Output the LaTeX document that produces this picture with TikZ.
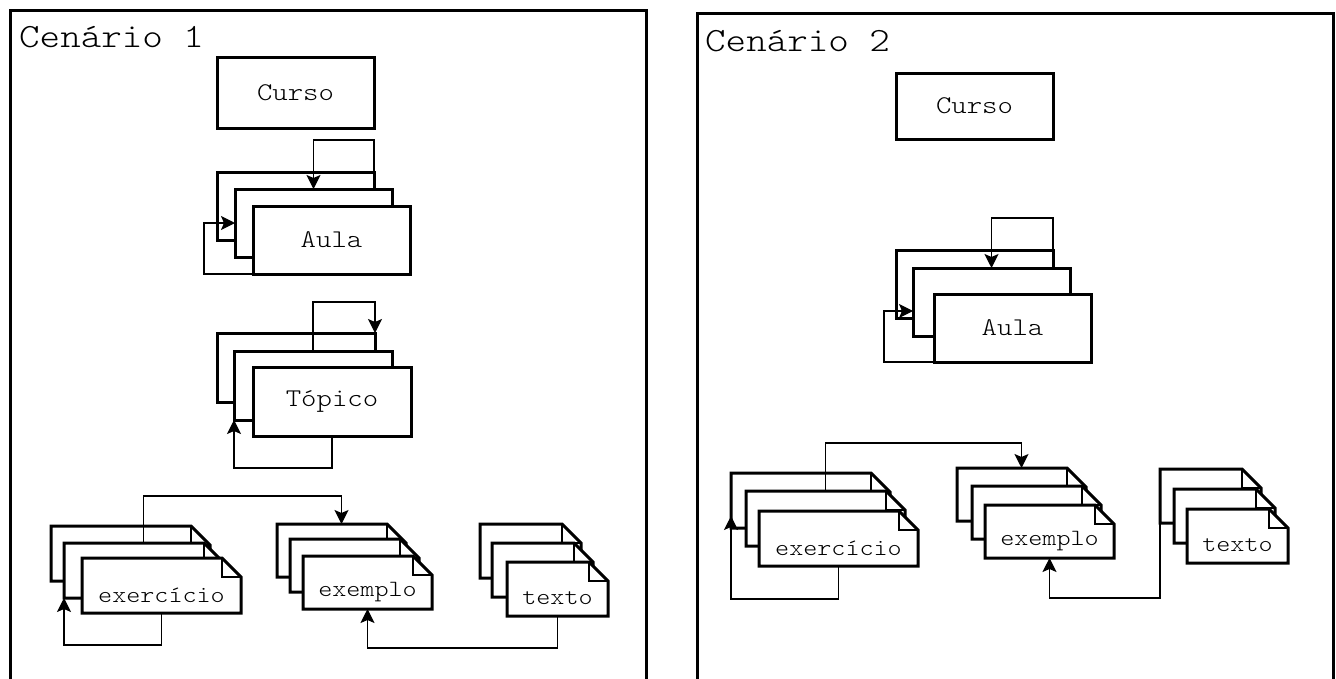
\documentclass[tikz,border=0pt]{standalone}
\usepackage{fontspec}
\usetikzlibrary{arrows.meta}
\newfontfamily\monofam[FakeStretch=1.15]{Latin Modern Mono Light}
\newcommand\fTitle{\monofam\fontsize{34}{40}\selectfont}
\newcommand\fBox{\monofam\fontsize{25.5}{30}\selectfont}
\newcommand\fDoc{\monofam\fontsize{23.3}{28}\selectfont}
\newcommand\fld{19pt}
\tikzset{
  frame/.style={line width=3pt},
  box/.style={draw, line width=3pt, fill=white, inner sep=0pt, outer sep=0pt,
    minimum width=157pt, minimum height=68pt, anchor=north west, font=\fBox},
  pagebody/.style={fill=white, inner sep=0pt, outer sep=0pt, anchor=south west, font=\fDoc},
  pageedge/.style={draw, line width=3pt, line join=miter},
  foldline/.style={draw, line width=1.2pt},
  conn/.style={line width=1.3pt, -{Stealth[length=14pt,width=14pt,inset=3pt]}},
}
% a sheet with a folded top-right corner; the node is the part below the fold
\newcommand\docpage[6]{%
  \node[pagebody, minimum width=#4pt, minimum height=#5pt] (#1) at (#2,#3) {#6};
  \fill[white] ([yshift=\fld]#1.north west) -- ([xshift=-\fld,yshift=\fld]#1.north east)
    -- (#1.north east) -- (#1.north west) -- cycle;
  \draw[pageedge] ([yshift=\fld]#1.north west) -- ([xshift=-\fld,yshift=\fld]#1.north east)
    -- (#1.north east) -- (#1.south east) -- (#1.south west) -- cycle;
  \draw[foldline] ([xshift=-\fld,yshift=\fld]#1.north east) |- (#1.north east);
}
\begin{document}
\begin{tikzpicture}[x=1pt,y=-1pt]
\useasboundingbox (0,0) rectangle (1336,678);

% ---------- panel 1 ----------
\draw[frame] (10,680) -- (10,10) -- (646,10) -- (646,680);
\node[anchor=base west, inner sep=0pt, font=\fTitle] (title1) at (19,47) {Cenário 1};

\node[box, minimum height=71pt] (curso1) at (217,57) {Curso};

\node[box] (aA) at (217,172) {};
\node[box] (aB) at (235,189) {};
\node[box] (aC) at (253,206) {Aula};

\node[box, minimum width=158pt, minimum height=69pt] (tA) at (217,333) {};
\node[box, minimum width=158pt, minimum height=69pt] (tB) at (234,351) {};
\node[box, minimum width=158pt, minimum height=69pt] (tC) at (253,367) {Tópico};

\docpage{eA}{51}{581}{159}{36}{}
\docpage{eB}{64}{598}{159}{36}{}
\docpage{eC}{82}{613}{159}{36}{exercício}

\docpage{xA}{277}{577}{129}{34}{}
\docpage{xB}{290}{592}{129}{34}{}
\docpage{xC}{303}{609}{129}{34}{exemplo}

\docpage{yA}{480}{578}{101}{35}{}
\docpage{yB}{492}{597}{101}{35}{}
\docpage{yC}{507}{616}{101}{35}{texto}

\draw[conn] (aA.north east) -- ++(0,-32) -| (aB.north);
\draw[conn] (aC.south west) -- ++(-49,0) |- (aB.west);
\draw[conn] (tB.north) -- ++(0,-49) -| (tA.north east);
\draw[conn] (tC.south) -- ++(0,32) -| (tB.south west);
\draw[conn] ([yshift=\fld]eB.north) -- ++(0,-47) -| ([yshift=\fld]xA.north);
\draw[conn] (eC.south) -- ++(0,32) -| (eB.south west);
\draw[conn] (yC.south) -- ++(0,32) -| (xC.south);

% ---------- panel 2 ----------
\draw[frame] (697,680) -- (697,13) -- (1333,13) -- (1333,680);
\node[anchor=base west, inner sep=0pt, font=\fTitle] (title2) at (705,51) {Cenário 2};

\node[box, minimum height=66pt] (curso2) at (896,73) {Curso};

\node[box] (bA) at (896,250) {};
\node[box] (bB) at (913,268) {};
\node[box] (bC) at (934,294) {Aula};

\docpage{fA}{731}{528}{159}{36}{}
\docpage{fB}{746}{546}{159}{36}{}
\docpage{fC}{759}{566}{159}{36}{exercício}

\docpage{gA}{957}{521}{129}{34}{}
\docpage{gB}{972}{539}{129}{34}{}
\docpage{gC}{985}{558}{129}{34}{exemplo}

\docpage{hA}{1160}{523}{101}{35}{}
\docpage{hB}{1174}{543}{101}{35}{}
\docpage{hC}{1187}{563}{101}{35}{texto}

\draw[conn] (bA.north east) -- ++(0,-32) -| (bB.north);
\draw[conn] (bC.south west) -- ++(-50,0) |- ([yshift=-9pt]bB.west);
\draw[conn] ([yshift=\fld]fB.north) -- ++(0,-48) -| ([yshift=\fld]gA.north);
\draw[conn] (fC.south) -- ++(0,33) -| ([yshift=12pt]fA.south west);
\draw[conn] (hA.south west) -- ++(0,75) -| (gC.south);
\end{tikzpicture}
\end{document}
